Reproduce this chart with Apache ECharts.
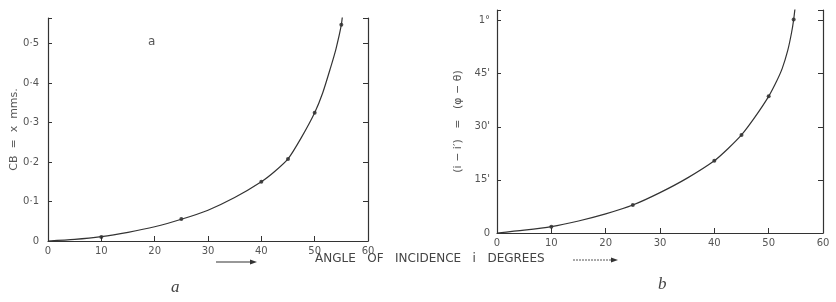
<!DOCTYPE html>
<html>
<head>
<meta charset="utf-8">
<script src="https://cdn.jsdelivr.net/npm/echarts@6/dist/echarts.min.js"></script>
<style>
  html, body { margin: 0; padding: 0; background: #fff; }
  #chart { width: 836px; height: 302px; }
</style>
</head>
<body>
<div id="chart"></div>
<script>
  // angle of incidence (degrees) for the measured points
  var pointAngles = [10, 25, 40, 45, 50, 55];
  var pointAnglesB = [10, 25, 40, 45, 50, 54.6];
  // panel a: CB = x, mms.
  var cbPoints = [0.01, 0.056, 0.15, 0.208, 0.325, 0.548];
  // panel b: (i - i') in minutes of arc
  var devPoints = [1.8, 7.9, 20.4, 27.7, 38.6, 60.3];

  // smooth curves drawn through the points
  var cbCurveX = [0, 5, 10, 15, 20, 25, 30, 35, 40, 42.5, 45, 47.5, 50, 51.5, 53, 54, 55, 55.35];
  var cbCurveY = [0, 0.004, 0.011, 0.022, 0.036, 0.055, 0.078, 0.11, 0.15, 0.176, 0.208, 0.262, 0.325, 0.375, 0.44, 0.487, 0.548, 0.59];
  var devCurveX = [0, 5, 10, 15, 20, 25, 30, 35, 40, 42.5, 45, 47.5, 50, 51.5, 52.5, 53.5, 54.2, 54.6, 55, 55.2];
  var devCurveY = [0, 0.8, 1.8, 3.4, 5.4, 7.9, 11.4, 15.5, 20.4, 23.8, 27.7, 32.8, 38.6, 43, 46.5, 51.5, 56.5, 60.3, 65.5, 68.5];

  var xTicks = [0, 10, 20, 30, 40, 50, 60];
  var cbTicks = ['0', '0·1', '0·2', '0·3', '0·4', '0·5'];
  var devTicks = ['0', "15'", "30'", "45'", '1°'];

  function zip(xs, ys) {
    return xs.map(function (x, i) { return [x, ys[i]]; });
  }

  var ink = '#333';
  var txt = '#555';
  var font = 'DejaVu Sans';

  function xAxisCfg(gi) {
    return {
      type: 'value', gridIndex: gi, min: 0, max: 60, interval: 10,
      axisLine: { lineStyle: { color: ink, width: 1.2 } },
      axisTick: { inside: true, length: 5, lineStyle: { color: ink } },
      axisLabel: { color: txt, fontSize: 10, fontFamily: font, margin: 5,
        formatter: function (v) { return xTicks.indexOf(v) >= 0 ? String(v) : ''; } },
      splitLine: { show: false }
    };
  }

  var option = {
    backgroundColor: '#fff',
    animation: false,
    grid: [
      { left: 48, right: 468, top: 18, bottom: 61 },
      { left: 497, right: 13, top: 10, bottom: 69 }
    ],
    xAxis: [xAxisCfg(0), xAxisCfg(1)],
    yAxis: [{
      type: 'value', gridIndex: 0, min: 0, max: 0.565, interval: 0.1,
      name: 'CB  =  x  mms.', nameLocation: 'middle', nameGap: 28, nameRotate: 90,
      nameTextStyle: { color: txt, fontSize: 11, fontFamily: font },
      axisLine: { show: true, lineStyle: { color: ink, width: 1.2 } },
      axisTick: { show: true, inside: true, length: 4, lineStyle: { color: ink } },
      axisLabel: { color: txt, fontSize: 10, fontFamily: font, margin: 9,
        formatter: function (v) {
          var k = Math.round(v * 10);
          return Math.abs(v * 10 - k) < 1e-6 && cbTicks[k] ? cbTicks[k] : '';
        } },
      splitLine: { show: false }
    }, {
      type: 'value', gridIndex: 0, position: 'right', min: 0, max: 0.565, interval: 0.1,
      axisLine: { show: true, lineStyle: { color: ink, width: 1.2 } },
      axisTick: { show: true, inside: true, length: 5, lineStyle: { color: ink } },
      axisLabel: { show: false }, splitLine: { show: false }
    }, {
      type: 'value', gridIndex: 1, min: 0, max: 63, interval: 15,
      name: "(i − i′)   =   (φ − θ)", nameLocation: 'middle', nameGap: 33, nameRotate: 90,
      nameTextStyle: { color: txt, fontSize: 11, fontFamily: font },
      axisLine: { show: true, lineStyle: { color: ink, width: 1.2 } },
      axisTick: { show: true, inside: true, length: 4, lineStyle: { color: ink } },
      axisLabel: { color: txt, fontSize: 10, fontFamily: font, margin: 7,
        formatter: function (v) {
          var k = Math.round(v / 15);
          return Math.abs(v / 15 - k) < 1e-6 && devTicks[k] ? devTicks[k] : '';
        } },
      splitLine: { show: false }
    }, {
      type: 'value', gridIndex: 1, position: 'right', min: 0, max: 63, interval: 15,
      axisLine: { show: true, lineStyle: { color: ink, width: 1.2 } },
      axisTick: { show: true, inside: true, length: 5, lineStyle: { color: ink } },
      axisLabel: { show: false }, splitLine: { show: false }
    }],
    series: [{
      type: 'line', xAxisIndex: 0, yAxisIndex: 0, data: zip(cbCurveX, cbCurveY),
      smooth: 0.25, showSymbol: false, clip: true,
      lineStyle: { color: ink, width: 1.2 }
    }, {
      type: 'scatter', xAxisIndex: 0, yAxisIndex: 0, data: zip(pointAngles, cbPoints),
      symbolSize: 4, itemStyle: { color: '#222' }
    }, {
      type: 'line', xAxisIndex: 1, yAxisIndex: 2, data: zip(devCurveX, devCurveY),
      smooth: 0.25, showSymbol: false, clip: true,
      lineStyle: { color: ink, width: 1.2 }
    }, {
      type: 'scatter', xAxisIndex: 1, yAxisIndex: 2, data: zip(pointAnglesB, devPoints),
      symbolSize: 4, itemStyle: { color: '#222' }
    }],
    graphic: [
      { type: 'text', left: 148, top: 36, style: { text: 'a', fill: txt, fontSize: 12, fontFamily: font } },
      { type: 'text', left: 315, top: 253, style: { text: 'ANGLE   OF   INCIDENCE   i   DEGREES', fill: '#444', fontSize: 12, fontFamily: font } },
      { type: 'line', shape: { x1: 216, y1: 262, x2: 252, y2: 262 }, style: { stroke: '#333', lineWidth: 1.2 } },
      { type: 'polygon', shape: { points: [[257, 262], [250, 259.5], [250, 264.5]] }, style: { fill: '#333' } },
      { type: 'line', shape: { x1: 573, y1: 260, x2: 613, y2: 260 }, style: { stroke: '#555', lineWidth: 1, lineDash: [2, 1] } },
      { type: 'polygon', shape: { points: [[618, 260], [611, 257.5], [611, 262.5]] }, style: { fill: '#333' } },
      { type: 'text', left: 171, top: 279, style: { text: 'a', fill: '#444', fontSize: 17, fontStyle: 'italic', fontFamily: 'Liberation Serif' } },
      { type: 'text', left: 658, top: 276, style: { text: 'b', fill: '#444', fontSize: 17, fontStyle: 'italic', fontFamily: 'Liberation Serif' } }
    ]
  };

  var myChart = echarts.init(document.getElementById('chart'));
  myChart.setOption(option);
  window.addEventListener('resize', function () {
    myChart.resize();
  });
</script>
</body>
</html>
